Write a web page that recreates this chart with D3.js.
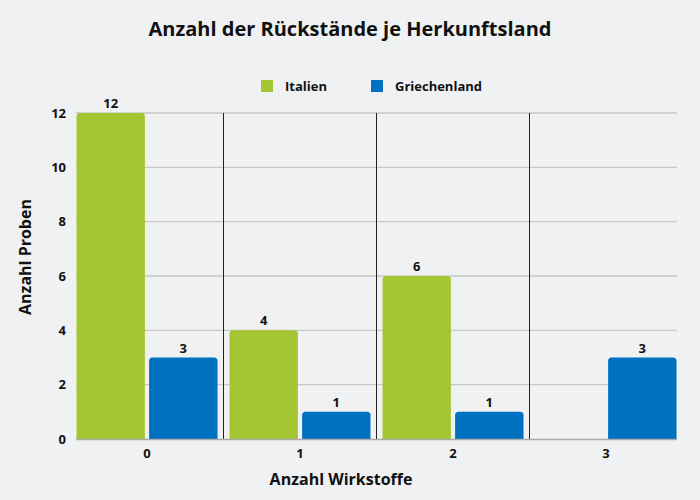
<!DOCTYPE html>
<html><head><meta charset="utf-8">
<script src="https://cdn.jsdelivr.net/npm/d3@7"></script>
<style>body{margin:0;background:#f0f1f3;} text{font-family:"Open Sans",sans-serif;font-weight:700;fill:#111;}</style>
</head><body>
<svg id="c" width="700" height="500"></svg>
<script>
const categories = ["0","1","2","3"];
const seriesNames = ["Italien","Griechenland"];
const italien = [12, 4, 6, 0];
const griechenland = [3, 1, 1, 3];
const yTicks = [0, 2, 4, 6, 8, 10, 12];
const colors = ["#a4c633", "#0070c0"];

(function(){
const svg = d3.select("#c");
svg.append("rect").attr("width",700).attr("height",500).attr("fill","#f0f1f3");
const pLeft = 76, pRight = 677, pTop = 113, pBottom = 439;

const x = d3.scaleBand().domain(categories).range([70.5, 682.5]).padding(0);
const xs = d3.scaleBand().domain(seriesNames).range([6, x.bandwidth()-6]).paddingInner(0.058);
const y = d3.scaleLinear().domain([0, 12]).range([pBottom, pTop]);

// grid
svg.append("g").selectAll("line").data(yTicks.filter(d=>d>0)).join("line")
  .attr("x1", pLeft).attr("x2", pRight).attr("y1", d=>y(d)).attr("y2", d=>y(d))
  .attr("stroke", "#c6c7c9").attr("stroke-width", 1.3);

// y tick labels
svg.append("g").selectAll("text").data(yTicks).join("text")
  .attr("x", 66).attr("y", d=>y(d)).attr("dy","0.35em").attr("text-anchor","end")
  .attr("font-size", 13).text(d=>d);

// separators
const seps = categories.slice(0,-1);
svg.append("g").selectAll("line").data(seps).join("line")
  .attr("x1", d=>x(d)+x.bandwidth()).attr("x2", d=>x(d)+x.bandwidth())
  .attr("y1", pTop).attr("y2", pBottom)
  .attr("stroke", "#222").attr("stroke-width", 1);

// bars
const data = [];
categories.forEach((c,i)=>{
  data.push({c, s: seriesNames[0], v: italien[i], col: colors[0]});
  data.push({c, s: seriesNames[1], v: griechenland[i], col: colors[1]});
});
const r = 3.5;
function barPath(x0, w, yTop, yBot){
  const rr = Math.min(r, (yBot-yTop));
  return `M${x0},${yBot}V${yTop+rr}Q${x0},${yTop} ${x0+rr},${yTop}H${x0+w-rr}Q${x0+w},${yTop} ${x0+w},${yTop+rr}V${yBot}Z`;
}
svg.append("g").selectAll("path").data(data.filter(d=>d.v>0)).join("path")
  .attr("d", d=>barPath(x(d.c)+xs(d.s), xs.bandwidth(), y(d.v), y(0)))
  .attr("fill", d=>d.col);

// value labels
svg.append("g").selectAll("text").data(data.filter(d=>d.v>0)).join("text")
  .attr("x", d=>x(d.c)+xs(d.s)+xs.bandwidth()/2).attr("y", d=>y(d.v)-5)
  .attr("text-anchor","middle").attr("font-size",13).text(d=>d.v);

// x axis line
svg.append("line").attr("x1", pLeft).attr("x2", pRight).attr("y1", pBottom+0.5).attr("y2", pBottom+0.5)
  .attr("stroke","#aaa").attr("stroke-width",1.5);

// x tick labels
svg.append("g").selectAll("text").data(categories).join("text")
  .attr("x", d=>x(d)+x.bandwidth()/2).attr("y", 458).attr("text-anchor","middle")
  .attr("font-size",13).text(d=>d);

// axis titles
svg.append("text").attr("x", 341).attr("y", 485).attr("text-anchor","middle").attr("font-size",16).text("Anzahl Wirkstoffe");
svg.append("text").attr("transform","translate(31,257) rotate(-90)").attr("text-anchor","middle").attr("font-size",16).text("Anzahl Proben");

// title
svg.append("text").attr("x", 350).attr("y", 36).attr("text-anchor","middle").attr("font-size",20).text("Anzahl der Rückstände je Herkunftsland");

// legend
const legX = [261, 371];
const lg = svg.append("g").selectAll("g").data(seriesNames).join("g")
  .attr("transform", (d,i)=>`translate(${legX[i]},80)`);
lg.append("rect").attr("width",12).attr("height",12).attr("fill",(d,i)=>colors[i]);
lg.append("text").attr("x",24).attr("y",6).attr("dy","0.35em").attr("font-size",13).text(d=>d);
})();
</script>
</body></html>
